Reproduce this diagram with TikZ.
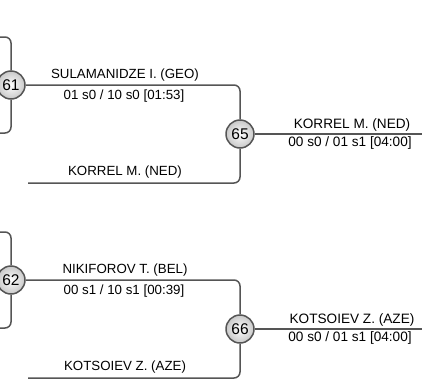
\documentclass[tikz,border=0pt]{standalone}
\usepackage{fontspec}
\setmainfont{Liberation Sans}
\definecolor{linegray}{RGB}{85,85,85}
\definecolor{circfill}{RGB}{200,200,200}
\begin{document}
\begin{tikzpicture}[x=1pt,y=-1pt,
  wire/.style={draw=linegray,line width=1.5pt,rounded corners=6pt},
  match/.style={circle,draw=linegray,line width=1.5pt,minimum size=28pt,inner sep=0pt,
    inner color=white,outer color=circfill,font=\fontsize{15.5}{17}\selectfont},
  lbl/.style={anchor=base,inner sep=0pt,font=\fontsize{13.3}{16}\selectfont},
  rlbl/.style={anchor=base,inner sep=0pt,font=\fontsize{13.6}{16}\selectfont}]
\useasboundingbox (0,0) rectangle (422,383);

% ---- top block ----
\coordinate (a61t) at (-12,37);
\coordinate (a61b) at (-12,133);
\coordinate (k65) at (28,183);
\coordinate (r65) at (470,134);
\node[match] (c61) at (11,85) {61};
\node[match] (c65) at (240,134) {65};
\draw[wire] (a61t) -| (c61.north);
\draw[wire] (a61b) -| (c61.south);
\draw[wire] (c61.east) -| (c65.north);
\draw[wire] (k65) -| (c65.south);
\draw[wire] (c65.east) -- (r65);
\node[lbl] (t61a) at (125,78.3) {SULAMANIDZE I. (GEO)};
\node[lbl] (t61b) at (124,99.3) {01 s0 / 10 s0 [01:53]};
\node[lbl] (t65k) at (125,175) {KORREL M. (NED)};
\node[rlbl] (t65a) at (352,128) {KORREL M. (NED)};
\node[rlbl] (t65b) at (350,146) {00 s0 / 01 s1 [04:00]};

% ---- bottom block ----
\coordinate (a62t) at (-12,232);
\coordinate (a62b) at (-12,328);
\coordinate (k66) at (28,378);
\coordinate (r66) at (470,329);
\node[match] (c62) at (11,280) {62};
\node[match] (c66) at (240,329) {66};
\draw[wire] (a62t) -| (c62.north);
\draw[wire] (a62b) -| (c62.south);
\draw[wire] (c62.east) -| (c66.north);
\draw[wire] (k66) -| (c66.south);
\draw[wire] (c66.east) -- (r66);
\node[lbl] (t62a) at (125,273.3) {NIKIFOROV T. (BEL)};
\node[lbl] (t62b) at (124,294.3) {00 s1 / 10 s1 [00:39]};
\node[lbl] (t66k) at (125,370) {KOTSOIEV Z. (AZE)};
\node[rlbl] (t66a) at (352,323) {KOTSOIEV Z. (AZE)};
\node[rlbl] (t66b) at (350,341) {00 s0 / 01 s1 [04:00]};
\end{tikzpicture}
\end{document}
